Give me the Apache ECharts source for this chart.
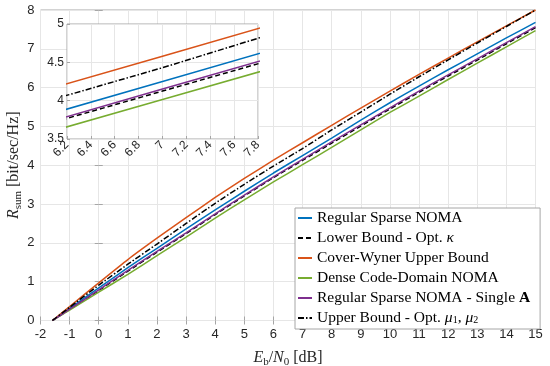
<!DOCTYPE html>
<html>
<head>
<meta charset="utf-8">
<script src="https://cdn.jsdelivr.net/npm/echarts@6/dist/echarts.min.js"></script>
<style>html,body{margin:0;padding:0;background:#fff}#c{width:550px;height:366px}</style>
</head>
<body>
<div id="c"></div>
<script>
// Eb/N0 [dB]
var xVals = [-1.59, -1, 0, 1, 2, 3, 4, 5, 6, 7, 8, 9, 10, 11, 12, 13, 14, 15];
var regularSparse = [0, 0.31, 0.84, 1.36, 1.86, 2.36, 2.85, 3.33, 3.80, 4.25, 4.70, 5.16, 5.61, 6.04, 6.46, 6.87, 7.28, 7.68];
var lowerBound    = [0, 0.285, 0.775, 1.27, 1.76, 2.24, 2.73, 3.21, 3.68, 4.125, 4.57, 5.01, 5.45, 5.88, 6.30, 6.71, 7.13, 7.545];
var coverWyner    = [0, 0.36, 0.97, 1.57, 2.12, 2.65, 3.17, 3.66, 4.13, 4.58, 5.03, 5.47, 5.91, 6.34, 6.76, 7.18, 7.59, 8.0];
var denseCD       = [0, 0.27, 0.73, 1.19, 1.67, 2.15, 2.64, 3.11, 3.57, 4.015, 4.46, 4.91, 5.36, 5.78, 6.21, 6.63, 7.05, 7.47];
var singleA       = [0, 0.29, 0.79, 1.29, 1.78, 2.26, 2.75, 3.23, 3.70, 4.153, 4.60, 5.04, 5.48, 5.91, 6.33, 6.74, 7.16, 7.57];
var upperBound    = [0, 0.34, 0.91, 1.45, 1.97, 2.50, 3.02, 3.51, 3.98, 4.43, 4.91, 5.37, 5.83, 6.28, 6.715, 7.15, 7.575, 8.0];

var seriesNames = ['Regular Sparse NOMA', 'Lower Bound - Opt. κ', 'Cover-Wyner Upper Bound',
                   'Dense Code-Domain NOMA', 'Regular Sparse NOMA - Single A', 'Upper Bound - Opt. μ1, μ2'];
var seriesValues = [regularSparse, lowerBound, coverWyner, denseCD, singleA, upperBound];
var seriesColors = ['#0072BD', '#000000', '#D95319', '#77AC30', '#7E2F8E', '#000000'];
var seriesTypes = ['solid', [5, 3], 'solid', 'solid', 'solid', [6, 2, 1.5, 2]];

var legendLabels = [
  'Regular Sparse NOMA',
  'Lower Bound - Opt. {i|κ}',
  'Cover-Wyner Upper Bound',
  'Dense Code-Domain NOMA',
  'Regular Sparse NOMA - Single {b|A}',
  'Upper Bound - Opt. {i|μ}{s|1}, {i|μ}{s|2}'
];

var mainXTicks = {min: -2, max: 15, interval: 1};
var mainYTicks = {min: 0, max: 8, interval: 1};
var insetXTicks = {min: 6.2, max: 7.8, interval: 0.2};
var insetYTicks = {min: 3.5, max: 5, interval: 0.5};

function pairs(ys) { return xVals.map(function (x, i) { return [x, ys[i]]; }); }

var SERIF = '"Liberation Serif", "Times New Roman", serif';
var SANS = '"Liberation Sans", Arial, Helvetica, sans-serif';
var gridColor = '#e6e6e6';
var boxColor = '#a6a6a6';
var labelColor = '#262626';

var series = [];
seriesNames.forEach(function (n, k) {
  series.push({
    name: n, type: 'line', xAxisIndex: 0, yAxisIndex: 0, data: pairs(seriesValues[k]),
    showSymbol: false, symbol: 'none', smooth: 0.15, z: 2 + k * 0.01,
    lineStyle: {color: seriesColors[k], width: 1.5, type: seriesTypes[k]},
    itemStyle: {color: seriesColors[k]}
  });
});
seriesNames.forEach(function (n, k) {
  series.push({
    name: n, type: 'line', xAxisIndex: 2, yAxisIndex: 2, data: pairs(seriesValues[k]),
    showSymbol: false, symbol: 'none', z: 5 + k * 0.01, clip: true,
    lineStyle: {color: seriesColors[k], width: 1.5, type: seriesTypes[k]},
    itemStyle: {color: seriesColors[k]}
  });
});

var tickStyle = {show: true, inside: true, length: 4, lineStyle: {color: boxColor}};
var option = {
  animation: false,
  backgroundColor: '#fff',
  grid: [
    {left: 40.5, top: 10, right: 14.5, bottom: 45.5, show: true, borderColor: boxColor, borderWidth: 1,
     backgroundColor: 'transparent', containLabel: false, outerBoundsMode: 'none'},
    {left: 67, top: 24, width: 191, height: 115, show: true, borderColor: boxColor, borderWidth: 1,
     backgroundColor: '#fff', z: 3, containLabel: false, outerBoundsMode: 'none'}
  ],
  xAxis: [
    {type: 'value', gridIndex: 0, position: 'bottom', min: mainXTicks.min, max: mainXTicks.max, interval: mainXTicks.interval,
     axisLine: {show: false}, axisTick: tickStyle,
     splitLine: {show: true, lineStyle: {color: gridColor}},
     axisLabel: {color: labelColor, fontSize: 13, fontFamily: SANS, margin: 7},
     name: '{i|E}{s|b}/{i|N}{s|0} [dB]', nameLocation: 'middle', nameGap: 27, nameMoveOverlap: false,
     nameTextStyle: {fontFamily: SERIF, fontSize: 16, color: labelColor, lineHeight: 20,
       rich: {i: {fontStyle: 'italic', fontFamily: SERIF, fontSize: 16, lineHeight: 20},
              s: {fontFamily: SERIF, fontSize: 11, lineHeight: 11, verticalAlign: 'bottom'}}}},
    {type: 'value', gridIndex: 0, position: 'top', min: mainXTicks.min, max: mainXTicks.max, interval: mainXTicks.interval,
     axisLine: {show: false}, axisTick: tickStyle, axisLabel: {show: false}, splitLine: {show: false}},
    {type: 'value', gridIndex: 1, min: insetXTicks.min, max: insetXTicks.max, interval: insetXTicks.interval, z: 3,
     axisLine: {show: false}, axisTick: {show: true, inside: true, length: 3, lineStyle: {color: boxColor}},
     splitLine: {show: true, lineStyle: {color: gridColor}},
     axisLabel: {color: labelColor, fontSize: 12, fontFamily: SANS, rotate: 45, margin: 4}}
  ],
  yAxis: [
    {type: 'value', gridIndex: 0, position: 'left', min: mainYTicks.min, max: mainYTicks.max, interval: mainYTicks.interval,
     axisLine: {show: false}, axisTick: tickStyle,
     splitLine: {show: true, lineStyle: {color: gridColor}},
     axisLabel: {color: labelColor, fontSize: 13, fontFamily: SANS, margin: 6},
     name: '{i|R}{s|sum} [bit/sec/Hz]', nameLocation: 'middle', nameGap: 17, nameRotate: 90, nameMoveOverlap: false,
     nameTextStyle: {fontFamily: SERIF, fontSize: 16, color: labelColor, lineHeight: 20,
       rich: {i: {fontStyle: 'italic', fontFamily: SERIF, fontSize: 16, lineHeight: 20},
              s: {fontFamily: SERIF, fontSize: 11, lineHeight: 11, verticalAlign: 'bottom'}}}},
    {type: 'value', gridIndex: 0, position: 'right', min: mainYTicks.min, max: mainYTicks.max, interval: mainYTicks.interval,
     axisLine: {show: false}, axisTick: tickStyle, axisLabel: {show: false}, splitLine: {show: false}},
    {type: 'value', gridIndex: 1, min: insetYTicks.min, max: insetYTicks.max, interval: insetYTicks.interval, z: 3,
     axisLine: {show: false}, axisTick: {show: true, inside: true, length: 3, lineStyle: {color: boxColor}},
     splitLine: {show: true, lineStyle: {color: gridColor}},
     axisLabel: {color: labelColor, fontSize: 12, fontFamily: SANS, margin: 3}}
  ],
  legend: {
    orient: 'vertical', left: 295, top: 208, width: 241,
    data: seriesNames, itemWidth: 14, itemHeight: 10, itemGap: 4,
    padding: [2, 10, 3, 2],
    backgroundColor: '#fff', borderColor: boxColor, borderWidth: 1, borderRadius: 0,
    selectedMode: false,
    itemStyle: {opacity: 0},
    formatter: function (name) { return legendLabels[seriesNames.indexOf(name)]; },
    textStyle: {fontFamily: SERIF, fontSize: 15.5, color: '#000', lineHeight: 14,
      rich: {i: {fontStyle: 'italic', fontFamily: SERIF, fontSize: 15.5, lineHeight: 14},
             b: {fontWeight: 'bold', fontFamily: SERIF, fontSize: 15.5, lineHeight: 14},
             s: {fontFamily: SERIF, fontSize: 10, lineHeight: 8, verticalAlign: 'bottom'}}}
  },
  series: series
};
var chart = echarts.init(document.getElementById('c'), null, {renderer: 'canvas'});
chart.setOption(option);
</script>
</body>
</html>
